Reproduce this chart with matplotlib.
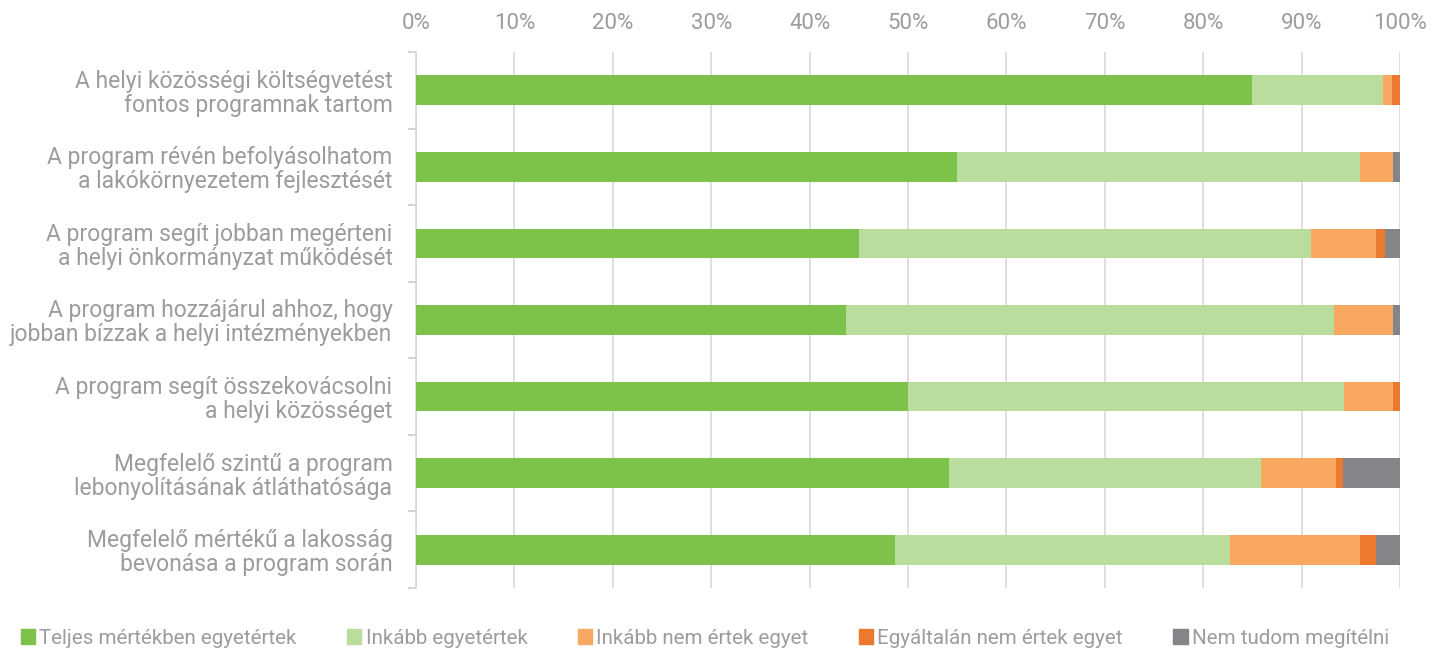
import matplotlib.pyplot as plt
import numpy as np
from matplotlib.ticker import FixedLocator, PercentFormatter
from matplotlib.patches import Patch

plt.rcParams['font.family'] = ['Roboto', 'DejaVu Sans']

categories = [
    "A helyi közösségi költségvetést\nfontos programnak tartom",
    "A program révén befolyásolhatom\na lakókörnyezetem fejlesztését",
    "A program segít jobban megérteni\na helyi önkormányzat működését",
    "A program hozzájárul ahhoz, hogy\njobban bízzak a helyi intézményekben",
    "A program segít összekovácsolni\na helyi közösséget",
    "Megfelelő szintű a program\nlebonyolításának átláthatósága",
    "Megfelelő mértékű a lakosság\nbevonása a program során",
]
series_names = [
    "Teljes mértékben egyetértek",
    "Inkább egyetértek",
    "Inkább nem értek egyet",
    "Egyáltalán nem értek egyet",
    "Nem tudom megítélni",
]
teljes = [85.0, 55.0, 45.0, 43.7, 50.0, 54.2, 48.7]
inkabb = [13.3, 40.9, 45.9, 49.6, 44.3, 31.7, 34.0]
inkabb_nem = [0.9, 3.4, 6.7, 6.0, 5.0, 7.6, 13.2]
egyaltalan_nem = [0.8, 0.0, 0.9, 0.0, 0.7, 0.7, 1.7]
nem_tudom = [0.0, 0.7, 1.5, 0.7, 0.0, 5.8, 2.4]
colors = ['#7dc24b', '#badc9c', '#f9a862', '#ec7a2e', '#848589']
text_grey = '#9c9ca0'

fig = plt.figure(figsize=(14.45, 6.51), dpi=100)
ax = fig.add_axes([0.2879, 0.0968, 0.6810, 0.8233])

y = np.arange(len(categories))
left = np.zeros(len(categories))
for vals, name, col in zip([teljes, inkabb, inkabb_nem, egyaltalan_nem, nem_tudom],
                           series_names, colors):
    vals = np.array(vals)
    ax.barh(y, vals, left=left, height=0.39, color=col, label=name, zorder=3)
    left += vals

ax.set_xlim(0, 100)
ax.set_ylim(len(categories) - 0.5, -0.5)
ax.xaxis.set_major_locator(FixedLocator(np.arange(0, 101, 10)))
ax.xaxis.set_major_formatter(PercentFormatter(decimals=0))
ax.xaxis.tick_top()
ax.tick_params(axis='x', length=0, pad=13, labelsize=16, labelcolor=text_grey)
ax.grid(axis='x', color='#d9d9d9', linewidth=1.2, zorder=0)

ax.set_yticks(y)
ax.set_yticklabels(categories, fontsize=16.5, color=text_grey, ha='right',
                   linespacing=1.05)
ax.tick_params(axis='y', which='major', length=0, pad=17)
ax.set_yticks(np.arange(-0.5, len(categories), 1), minor=True)
ax.tick_params(axis='y', which='minor', length=6, color='#cccccc', width=1.2)

for s in ['top', 'right', 'bottom']:
    ax.spines[s].set_visible(False)
ax.spines['left'].set_color('#d9d9d9')
ax.spines['left'].set_linewidth(1.2)

handles = [Patch(color=c) for c in colors]
fig.legend(handles, series_names, loc='lower left', bbox_to_anchor=(0.003, -0.02),
           ncol=5, frameon=False, handlelength=0.7, handleheight=0.7,
           handletextpad=0.2, columnspacing=2.45, fontsize=14.8,
           labelcolor=text_grey, borderpad=0.3)

fig.savefig('out.png', dpi=100)
